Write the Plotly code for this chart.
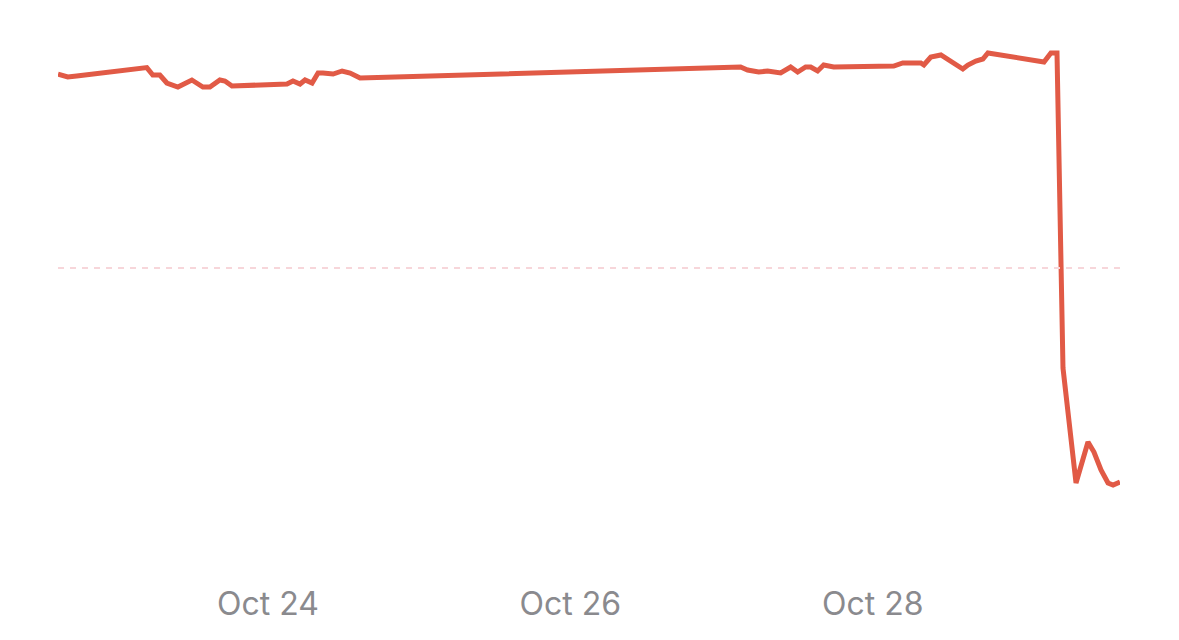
import plotly.graph_objects as go

# price series (times are local, one point per visible kink)
times = [
    "2023-10-22 14:40", "2023-10-22 16:13", "2023-10-22 17:38", "2023-10-23 04:46",
    "2023-10-23 05:43", "2023-10-23 06:50", "2023-10-23 07:57", "2023-10-23 09:42",
    "2023-10-23 11:55", "2023-10-23 13:40", "2023-10-23 14:47", "2023-10-23 16:22",
    "2023-10-23 17:10", "2023-10-23 18:17", "2023-10-24 03:01", "2023-10-24 03:58",
    "2023-10-24 05:05", "2023-10-24 05:53", "2023-10-24 07:00", "2023-10-24 07:57",
    "2023-10-24 08:44", "2023-10-24 10:20", "2023-10-24 11:46", "2023-10-24 13:02",
    "2023-10-24 14:37", "2023-10-27 03:01", "2023-10-27 04:08", "2023-10-27 05:53",
    "2023-10-27 07:19", "2023-10-27 09:23", "2023-10-27 10:58", "2023-10-27 12:05",
    "2023-10-27 13:21", "2023-10-27 14:09", "2023-10-27 15:15", "2023-10-27 16:13",
    "2023-10-27 17:48", "2023-10-28 03:20", "2023-10-28 04:46", "2023-10-28 05:34",
    "2023-10-28 06:31", "2023-10-28 07:38", "2023-10-28 08:07", "2023-10-28 09:13",
    "2023-10-28 10:49", "2023-10-28 12:24", "2023-10-28 14:18", "2023-10-28 15:06",
    "2023-10-28 16:22", "2023-10-28 17:29", "2023-10-28 18:17", "2023-10-29 03:11",
    "2023-10-29 04:17", "2023-10-29 05:15", "2023-10-29 06:12", "2023-10-29 08:16",
    "2023-10-29 10:10", "2023-10-29 11:07", "2023-10-29 12:14", "2023-10-29 13:21",
    "2023-10-29 14:09", "2023-10-29 15:15",
]
prices = [
    39.69, 39.55, 39.60, 40.02,
    39.65, 39.65, 39.25, 39.05,
    39.40, 39.05, 39.05, 39.40,
    39.35, 39.10, 39.20, 39.35,
    39.20, 39.40, 39.25, 39.75,
    39.75, 39.70, 39.85, 39.75,
    39.50, 40.05, 39.90, 39.80,
    39.85, 39.75, 40.05, 39.80,
    40.05, 40.05, 39.85, 40.15,
    40.05, 40.10, 40.25, 40.25,
    40.25, 40.25, 40.15, 40.55,
    40.65, 40.30, 39.95, 40.15,
    40.35, 40.45, 40.75, 40.30,
    40.75, 40.75, 25.00, 19.25,
    21.30, 20.80, 19.90, 19.25,
    19.15, 19.30,
]
prev_close = 30.0
tick_dates = ["2023-10-24", "2023-10-26", "2023-10-28"]

LINE = "#E15A46"

fig = go.Figure()
fig.add_trace(go.Scatter(
    x=times, y=prices, mode="lines",
    line=dict(color=LINE, width=5),
    hoverinfo="x+y", showlegend=False,
))

# faint dotted reference line (previous close)
fig.add_hline(y=prev_close, line=dict(color="#F7D6DA", width=2, dash="6px,6px"))

# page body has an 8px margin, so the margins are shifted to compensate
fig.update_layout(
    width=1179, height=640,
    margin=dict(l=50, r=67, t=12, b=73),
    plot_bgcolor="white", paper_bgcolor="white",
    font=dict(family="Inter, Roboto, sans-serif", color="#8A8A8E"),
    xaxis=dict(
        range=[times[0], times[-1]],
        tickvals=tick_dates, tickformat="%b %-d",
        showgrid=False, zeroline=False, showline=False, ticks="",
        ticklabelstandoff=7,
        tickfont=dict(size=32, color="#8A8A8E"),
    ),
    yaxis=dict(
        range=[14.65, 42.4],
        showgrid=False, zeroline=False, showline=False,
        showticklabels=False, ticks="",
    ),
)

fig.write_html("out.html")
